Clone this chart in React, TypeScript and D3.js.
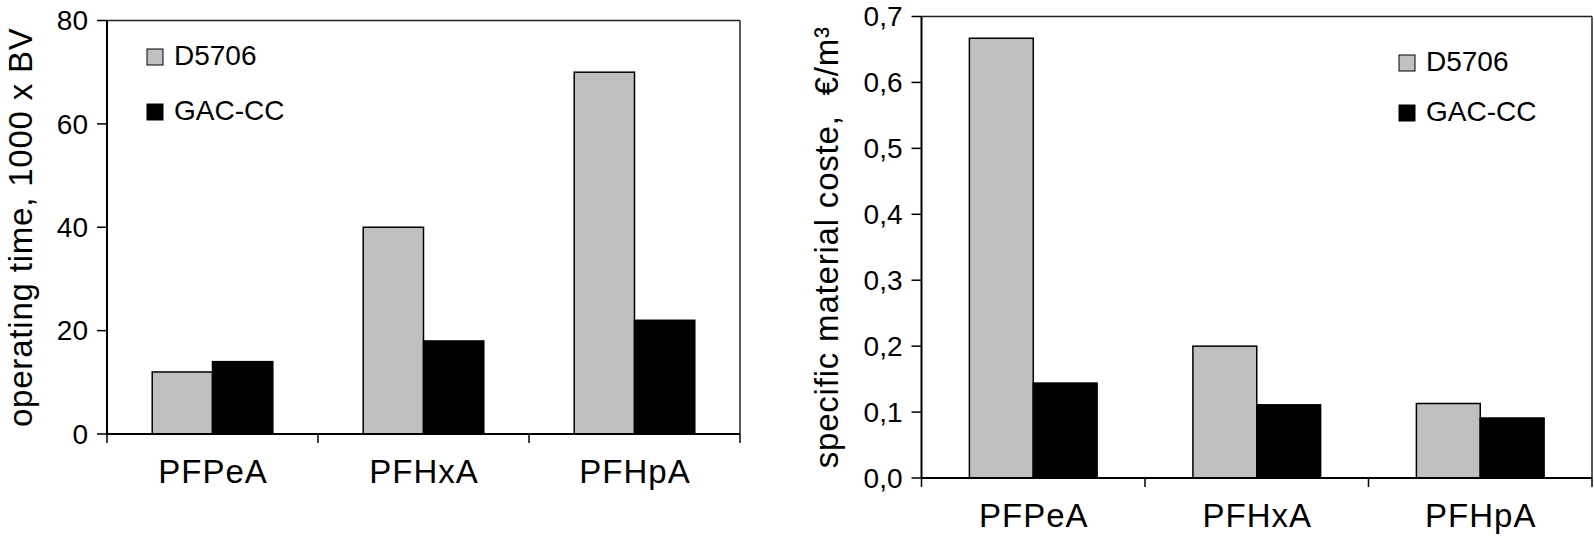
import * as d3 from 'd3'

// ── data ─────────────────────────────────────────────────────────────────────
const categories = ['PFPeA', 'PFHxA', 'PFHpA']
const seriesNames = ['D5706', 'GAC-CC']
const opTimeD5706 = [12, 40, 70]
const opTimeGAC = [14, 18, 22]
const opTicks = [0, 20, 40, 60, 80]
const costD5706 = [0.667, 0.2, 0.113]
const costGAC = [0.144, 0.111, 0.091]
const costTicks = [0, 0.1, 0.2, 0.3, 0.4, 0.5, 0.6, 0.7]

// ── constants ────────────────────────────────────────────────────────────────
const W = 1594
const H = 537
const FONT = '"Liberation Sans", Arial, sans-serif'
const FS = 28
const C_GRAY = '#c0c0c0'
const C_BLACK = '#000'
const SERIES_COL = [C_GRAY, C_BLACK]

type PanelProps = {
  left: number
  right: number
  top: number
  bottom: number
  max: number
  ticks: number[]
  fmt: (v: number) => string
  values: number[][]
  label: string
  labelX: number
  legendX: number
  legendY: number[]
}

function Panel({ left, right, top, bottom, max, ticks, fmt, values, label, labelX, legendX, legendY }: PanelProps) {
  const x = d3.scaleBand<string>().domain(categories).range([left, right]).padding(0)
  const xs = d3.scaleBand<string>().domain(seriesNames).range([0, x.bandwidth()])
    .paddingInner(0).paddingOuter(0.75)
  const y = d3.scaleLinear().domain([0, max]).range([bottom, top])
  const bounds = [...categories.map(c => x(c)!), right]

  return (
    <g fontFamily={FONT} fontSize={FS} fill="#000">
      {/* frame */}
      <line x1={left} x2={right} y1={top} y2={top} stroke="#222" strokeWidth={1.5} />
      <line x1={right} x2={right} y1={top} y2={bottom} stroke="#222" strokeWidth={1.5} />

      {/* bars */}
      {values.map((vals, si) =>
        vals.map((v, ci) => (
          <rect
            key={`${si}-${ci}`}
            x={x(categories[ci])! + xs(seriesNames[si])!}
            y={y(v)}
            width={xs.bandwidth()}
            height={bottom - y(v)}
            fill={SERIES_COL[si]}
            stroke="#000"
            strokeWidth={1.5}
          />
        )),
      )}

      {/* y axis */}
      <line x1={left} x2={left} y1={top} y2={bottom} stroke="#000" strokeWidth={2} />
      {ticks.map(t => (
        <g key={t}>
          <line x1={left - 10} x2={left} y1={y(t)} y2={y(t)} stroke="#000" strokeWidth={1.5} />
          <text x={left - 19} y={y(t)} dy="0.35em" textAnchor="end">{fmt(t)}</text>
        </g>
      ))}

      {/* x axis */}
      <line x1={left} x2={right} y1={bottom} y2={bottom} stroke="#000" strokeWidth={2} />
      {bounds.map((b, i) => (
        <line key={i} x1={b} x2={b} y1={bottom} y2={bottom + 9} stroke="#000" strokeWidth={1.5} />
      ))}
      {categories.map(c => (
        <text key={c} x={x(c)! + x.bandwidth() / 2 + 0.5} y={bottom + 49} textAnchor="middle"
          fontSize={33} letterSpacing={1}>{c}</text>
      ))}

      {/* axis title */}
      <text
        transform={`translate(${labelX},${(top + bottom) / 2}) rotate(-90)`}
        textAnchor="middle"
        fontSize={33}
        letterSpacing={0.8}
        style={{ whiteSpace: 'pre' }}
      >
        {label}
      </text>

      {/* legend */}
      {seriesNames.map((s, i) => (
        <g key={s}>
          <rect x={legendX} y={legendY[i] - 16} width={16} height={16} fill={SERIES_COL[i]} stroke="#000" strokeWidth={1} />
          <text x={legendX + 27} y={legendY[i]} fontSize={28}>{s}</text>
        </g>
      ))}
    </g>
  )
}

export default function App() {
  const fmtComma = (v: number) => d3.format('.1f')(v).replace('.', ',')
  return (
    <svg
      width={W}
      height={H}
      viewBox={`0 0 ${W} ${H}`}
      style={{ position: 'absolute', left: 0, top: 0, background: '#fff' }}
    >
      <Panel
        left={107} right={740} top={20.5} bottom={434}
        max={80} ticks={opTicks} fmt={v => String(v)}
        values={[opTimeD5706, opTimeGAC]}
        label="operating time, 1000 x BV"
        labelX={32}
        legendX={147} legendY={[65, 120]}
      />
      <Panel
        left={921.5} right={1592} top={16.5} bottom={478}
        max={0.7} ticks={costTicks} fmt={fmtComma}
        values={[costD5706, costGAC]}
        label={'specific material coste,  €/m³'}
        labelX={838}
        legendX={1399} legendY={[71, 121]}
      />
    </svg>
  )
}
